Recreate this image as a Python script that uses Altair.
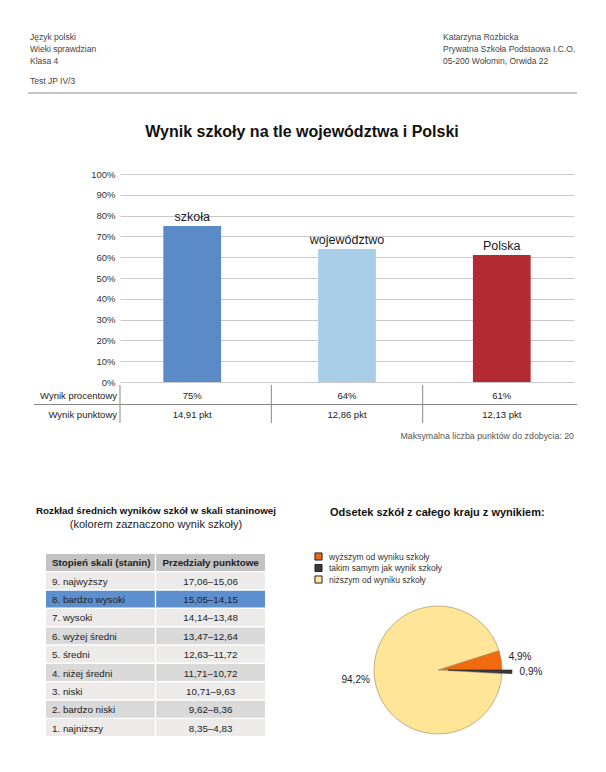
import math
import altair as alt
import pandas as pd

# ---------------- data ----------------
header_left = ["Język polski", "Wieki sprawdzian", "Klasa 4"]
header_test = "Test JP IV/3"
header_right = ["Katarzyna Rozbicka", "Prywatna Szkoła Podstaowa I.C.O.", "05-200 Wołomin, Orwida 22"]
main_title = "Wynik szkoły na tle województwa i Polski"

bar_cats = ["szkoła", "województwo", "Polska"]
bar_pct = [0.75, 0.64, 0.61]
pct_text = ["75%", "64%", "61%"]
pts_text = ["14,91 pkt", "12,86 pkt", "12,13 pkt"]
row_names = ["Wynik procentowy", "Wynik punktowy"]
max_note = "Maksymalna liczba punktów do zdobycia: 20"
y_ticks = [0.0, 0.1, 0.2, 0.3, 0.4, 0.5, 0.6, 0.7, 0.8, 0.9, 1.0]

stanin_title = "Rozkład średnich wyników szkół w skali staninowej"
stanin_sub = "(kolorem zaznaczono wynik szkoły)"
stanin_head = ["Stopień skali (stanin)", "Przedziały punktowe"]
stanin_names = ["9. najwyższy", "8. bardzo wysoki", "7. wysoki", "6. wyżej średni",
                "5. średni", "4. niżej średni", "3. niski", "2. bardzo niski", "1. najniższy"]
stanin_ranges = ["17,06–15,06", "15,05–14,15", "14,14–13,48", "13,47–12,64",
                 "12,63–11,72", "11,71–10,72", "10,71–9,63", "9,62–8,36", "8,35–4,83"]
school_stanin = "8. bardzo wysoki"

pie_title = "Odsetek szkół z całego kraju z wynikiem:"
pie_cats = ["wyższym od wyniku szkoły", "takim samym jak wynik szkoły", "niższym od wyniku szkoły"]
pie_vals = [4.9, 0.9, 94.2]
pie_text = ["4,9%", "0,9%", "94,2%"]

# ---------------- styles ----------------
FONT = "Liberation Sans"
bar_colors = ["#5a8bc8", "#a9cee7", "#b42a33"]
pie_colors = ["#f26a10", "#3a3a3a", "#fee597"]
shade_dom = ["header", "light", "dark", "highlight"]
shade_rng = ["#c3c3c3", "#ecebea", "#d9d9d9", "#5d8fcf"]
PLOT_W, PLOT_H = 454, 208


def label(text, x, y, size, weight="normal", align="left", color="#333"):
    return alt.Chart(pd.DataFrame({"t": [text]})).mark_text(
        align=align, baseline="middle", fontSize=size, fontWeight=weight,
        color=color, font=FONT
    ).encode(x=alt.value(x), y=alt.value(y), text="t:N")


def xband():
    return alt.Scale(type="band", domain=bar_cats, range=[0, PLOT_W],
                     paddingInner=0.627, paddingOuter=0.28)


def yscale():
    return alt.Scale(domain=[0, 1], nice=False)


def rowscale():
    return alt.Scale(type="band", domain=row_names, range=[211, 250],
                     paddingInner=0, paddingOuter=0)


layers = []

# ---- header ----
for i, t in enumerate(header_left):
    layers.append(label(t, -90, -137 + 12 * i, 8.5, color="#444"))
layers.append(label(header_test, -90, -93, 8.5, color="#444"))
for i, t in enumerate(header_right):
    layers.append(label(t, 323, -137 + 12 * i, 8.5, color="#444"))
layers.append(
    alt.Chart(pd.DataFrame({"k": [0]})).mark_rule(color="#c5c5c5", strokeWidth=2)
    .encode(x=alt.value(-92), x2=alt.value(457), y=alt.value(-81))
)
layers.append(label(main_title, 182, -42, 16, weight="bold", align="center", color="#111"))

# ---- bars ----
bar_df = pd.DataFrame({"cat": bar_cats, "pct": bar_pct})
bars = alt.Chart(bar_df).mark_bar().encode(
    x=alt.X("cat:N", scale=xband(), axis=None),
    y=alt.Y("pct:Q", scale=yscale(),
            axis=alt.Axis(values=y_ticks, format=".0%", grid=True, gridColor="#c9c9c9",
                          gridWidth=1, domain=False, ticks=False, labelPadding=5,
                          labelFontSize=9.5, labelColor="#333", labelFont=FONT, title=None)),
    color=alt.Color("cat:N", scale=alt.Scale(domain=bar_cats, range=bar_colors), legend=None),
)
bar_labels = alt.Chart(bar_df).mark_text(
    baseline="alphabetic", dy=-5, fontSize=12.5, color="#1a1a1a", font=FONT
).encode(
    x=alt.X("cat:N", scale=xband(), axis=None),
    y=alt.Y("pct:Q", scale=yscale(), axis=None),
    text="cat:N",
)
layers += [bars, bar_labels]

# ---- table under the bars ----
tab_df = pd.DataFrame({
    "cat": bar_cats * 2,
    "row": [row_names[0]] * 3 + [row_names[1]] * 3,
    "val": pct_text + pts_text,
})
layers.append(
    alt.Chart(tab_df).mark_text(fontSize=9.5, color="#222", font=FONT, dy=1).encode(
        x=alt.X("cat:N", scale=xband(), axis=None),
        y=alt.Y("row:N", scale=rowscale(), axis=None),
        text="val:N",
    )
)
layers.append(
    alt.Chart(pd.DataFrame({"row": row_names})).mark_text(
        align="right", fontSize=9.5, color="#222", font=FONT, dy=1
    ).encode(x=alt.value(-3), y=alt.Y("row:N", scale=rowscale(), axis=None), text="row:N")
)
layers.append(
    alt.Chart(pd.DataFrame({"cat": bar_cats})).mark_rule(color="#888", strokeWidth=1).encode(
        x=alt.X("cat:N", scale=alt.Scale(type="band", domain=bar_cats, range=[0, PLOT_W],
                                         paddingInner=0, paddingOuter=0),
                bandPosition=0, axis=None),
        y=alt.value(211), y2=alt.value(249),
    )
)
layers.append(
    alt.Chart(pd.DataFrame({"row": [row_names[1]]})).mark_rule(color="#888", strokeWidth=1).encode(
        y=alt.Y("row:N", scale=rowscale(), bandPosition=0, axis=None),
        x=alt.value(-86), x2=alt.value(457),
    )
)
layers.append(label(max_note, 454, 262, 8.8, align="right", color="#555"))

# ---- stanin table ----
layers.append(label(stanin_title, 36, 337, 9.8, weight="bold", align="center", color="#111"))
layers.append(label(stanin_sub, 36, 351, 11, align="center", color="#222"))

row_keys = ["hdr"] + stanin_names
cells = []
for c, t in zip(["c1", "c2"], stanin_head):
    cells.append({"row": "hdr", "col": c, "txt": t, "shade": "header"})
for i, (n, r) in enumerate(zip(stanin_names, stanin_ranges)):
    shade = "highlight" if n == school_stanin else ("light" if i % 2 == 0 else "dark")
    cells.append({"row": n, "col": "c1", "txt": n, "shade": shade})
    cells.append({"row": n, "col": "c2", "txt": r, "shade": shade})
cell_df = pd.DataFrame(cells)


def tcol():
    return alt.Scale(type="band", domain=["c1", "c2"], range=[-74, 145],
                     paddingInner=0.012, paddingOuter=0)


def trow():
    return alt.Scale(type="band", domain=row_keys, range=[380, 562],
                     paddingInner=0.08, paddingOuter=0)


layers.append(
    alt.Chart(cell_df).mark_rect().encode(
        x=alt.X("col:N", scale=tcol(), axis=None),
        y=alt.Y("row:N", scale=trow(), axis=None),
        color=alt.Color("shade:N", scale=alt.Scale(domain=shade_dom, range=shade_rng), legend=None),
    )
)
body = cell_df[cell_df["row"] != "hdr"]
head = cell_df[cell_df["row"] == "hdr"]
for df, weight in [(body, "normal"), (head, "bold")]:
    layers.append(
        alt.Chart(df[df["col"] == "c1"]).mark_text(
            align="left", dx=6, dy=1, fontSize=9.8, fontWeight=weight, color="#222", font=FONT
        ).encode(
            x=alt.X("col:N", scale=tcol(), bandPosition=0, axis=None),
            y=alt.Y("row:N", scale=trow(), axis=None),
            text="txt:N",
        )
    )
    layers.append(
        alt.Chart(df[df["col"] == "c2"]).mark_text(
            align="center", dy=1, fontSize=9.8, fontWeight=weight, color="#222", font=FONT
        ).encode(
            x=alt.X("col:N", scale=tcol(), axis=None),
            y=alt.Y("row:N", scale=trow(), axis=None),
            text="txt:N",
        )
    )

# ---- pie ----
layers.append(label(pie_title, 210, 339, 11, weight="bold", color="#111"))

a0 = math.pi / 2 - 2 * math.pi * pie_vals[0] / sum(pie_vals)
pie_df = pd.DataFrame({"cat": pie_cats, "val": pie_vals, "txt": pie_text, "order": [0, 1, 2]})
pie_base = alt.Chart(pie_df).transform_window(
    end="sum(val)", sort=[alt.SortField("order")], frame=[None, 0]
).transform_calculate(start="datum.end - datum.val", mid="datum.end - datum.val / 2")


def tscale():
    return alt.Scale(domain=[0, sum(pie_vals)], range=[a0, a0 + 2 * math.pi])


pie_color = alt.Scale(domain=pie_cats, range=pie_colors)
CX, CY, R = 318, 496, 64
EXPLODE = 10

layers.append(
    pie_base.transform_filter(alt.datum.cat != pie_cats[1]).mark_arc(
        radius=R, stroke="#9a8756", strokeWidth=0.6
    ).encode(
        theta=alt.Theta("start:Q", scale=tscale(), stack=None),
        theta2="end:Q",
        color=alt.Color("cat:N", scale=pie_color, legend=alt.Legend(
            orient="none", legendX=194, legendY=378, title=None, symbolType="square",
            symbolSize=50, symbolStrokeColor="#222", symbolStrokeWidth=1,
            labelFont=FONT, labelFontSize=8.5, labelColor="#333", labelOffset=6,
            rowPadding=-1.5, padding=0, direction="vertical")),
        x=alt.value(CX), y=alt.value(CY),
    )
)
layers.append(
    pie_base.transform_filter(alt.datum.cat == pie_cats[1]).mark_arc(
        radius=R, stroke="#222", strokeWidth=0.6
    ).encode(
        theta=alt.Theta("start:Q", scale=tscale(), stack=None),
        theta2="end:Q",
        color=alt.Color("cat:N", scale=pie_color, legend=None),
        x=alt.value(CX + EXPLODE), y=alt.value(CY),
    )
)
layers.append(
    pie_base.transform_filter(alt.datum.cat != pie_cats[1]).mark_text(
        radius=83, fontSize=10, color="#222", font=FONT
    ).encode(
        theta=alt.Theta("mid:Q", scale=tscale(), stack=None),
        text="txt:N",
        x=alt.value(CX), y=alt.value(CY),
    )
)
layers.append(
    pie_base.transform_filter(alt.datum.cat == pie_cats[1]).mark_text(
        radius=83, fontSize=10, color="#222", font=FONT
    ).encode(
        theta=alt.Theta("mid:Q", scale=tscale(), stack=None),
        text="txt:N",
        x=alt.value(CX + EXPLODE), y=alt.value(CY),
    )
)

chart = alt.layer(*layers).resolve_scale(
    x="independent", y="independent", color="independent", theta="independent"
).properties(
    width=PLOT_W, height=PLOT_H,
    padding={"left": 112, "top": 166, "right": 24, "bottom": 382},
    autosize=alt.AutoSizeParams(type="none"),
    background="white",
).configure(font=FONT).configure_view(stroke=None)

chart.save("out.html", embed_options={"renderer": "svg", "actions": False})
